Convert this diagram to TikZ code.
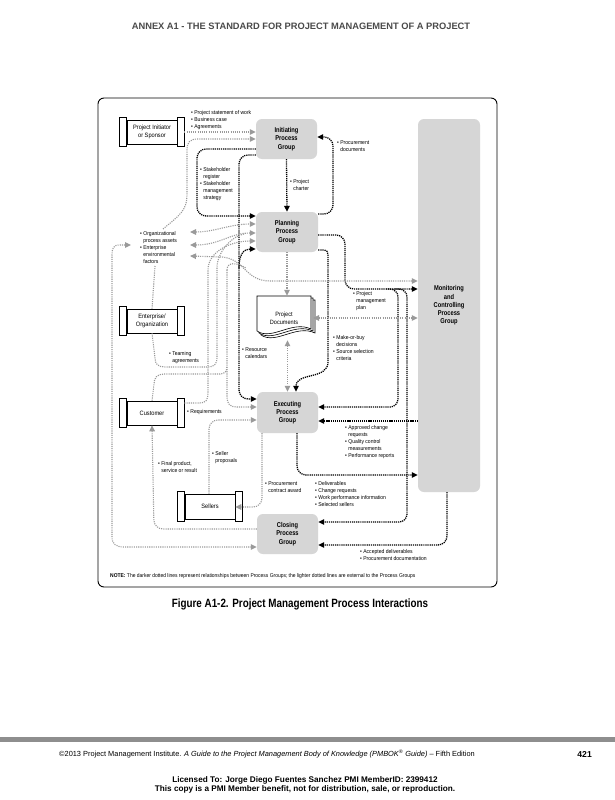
\documentclass[tikz,border=0pt]{standalone}
\usepackage{fontspec}
\setmainfont{Liberation Sans}
\newfontfamily\cond[FakeStretch=0.9]{Liberation Sans}
\newfontfamily\condb[FakeStretch=0.82]{Liberation Sans}
\usetikzlibrary{arrows.meta,calc}
\definecolor{pgfill}{HTML}{D6D6D6}
\definecolor{lgray}{HTML}{9A9A9A}
\definecolor{hdrgray}{HTML}{4A4A4A}
\definecolor{bargray}{HTML}{8E8E8E}
\newcommand\ind{\hphantom{\textbullet\ }}
\newcommand\entbox[4]{%
  \node[ent] (#1) at (#2,#3) {#4};
  \draw[line width=0.6pt, fill=white] ($(#1.north west)+(-7,-2)$) rectangle ($(#1.south west)+(0,2)$);
  \draw[line width=0.6pt, fill=white] ($(#1.north east)+(0,-2)$) rectangle ($(#1.south east)+(7,2)$);
}
\begin{document}
\begin{tikzpicture}[x=1pt,y=-1pt,
  pg/.style={fill=pgfill, rounded corners=6pt, align=center, inner sep=0pt, font=\condb\bfseries\fontsize{7}{8.3}\selectfont},
  ent/.style={draw, line width=0.6pt, fill=white, minimum width=50pt, minimum height=24pt, inner sep=0pt, align=center, font=\cond\fontsize{6.3}{7.8}\selectfont},
  lbl/.style={anchor=north west, inner sep=0pt, align=left, font=\cond\fontsize{5.6}{7.1}\selectfont},
  dk/.style={draw=black, line width=1.3pt, dash pattern=on 1.2pt off 0.9pt},
  gy/.style={draw=lgray, line width=1.1pt, dash pattern=on 1.1pt off 1.1pt},
  aend/.style={-{Triangle[length=6pt,width=5.5pt]}},
  aboth/.style={{Triangle[length=6pt,width=5.5pt]}-{Triangle[length=6pt,width=5.5pt]}},
]
\useasboundingbox (0,0) rectangle (615,800);
\fill[white] (0,0) rectangle (615,800);

% header
\node[font=\bfseries\fontsize{9.3}{10}\selectfont, text=hdrgray] (hdr) at (301,26) {ANNEX A1 - THE STANDARD FOR PROJECT MANAGEMENT OF A PROJECT};

% frame
\node[draw, line width=0.9pt, rounded corners=6pt, minimum width=399pt, minimum height=489pt, inner sep=0pt] (frame) at (297.5,342.5) {};

% process groups
\node[pg, minimum width=61pt, minimum height=40pt] (init) at (286.5,139) {Initiating\\Process\\Group};
\node[pg, minimum width=62pt, minimum height=40pt] (plan) at (287,232) {Planning\\Process\\Group};
\node[pg, minimum width=61pt, minimum height=41pt] (exec) at (287.5,412.5) {Executing\\Process\\Group};
\node[pg, minimum width=61pt, minimum height=40pt] (close) at (287.5,534) {Closing\\Process\\Group};
\node[pg, minimum width=62pt, minimum height=373pt] (mon) at (449,305.5) {Monitoring\\and\\Controlling\\Process\\Group};

% entities
\entbox{spon}{152}{132}{Project Initiator\\or Sponsor}
\entbox{ent}{152}{321}{Enterprise/\\Organization}
\entbox{cust}{152}{413}{Customer}
\node[ent, minimum height=25pt] (sell) at (210,506.5) {Sellers};
\draw[line width=0.6pt, fill=white] ($(sell.north west)+(-7,-2)$) rectangle ($(sell.south west)+(0,2)$);
\draw[line width=0.6pt, fill=white] ($(sell.north east)+(0,-2)$) rectangle ($(sell.south east)+(7,2)$);

% project documents
\foreach \d in {4,2} {
  \draw[line width=0.6pt, fill=white] (257+\d,296+\d) -- (311+\d,296+\d) -- (311+\d,329+\d)
     .. controls (292+\d,320+\d) and (272+\d,341+\d) .. (257+\d,331+\d) -- cycle;
}
\draw[line width=0.6pt, fill=white] (257,296) -- (311,296) -- (311,329)
     .. controls (292,320) and (272,341) .. (257,331) -- cycle;
\node[inner sep=0pt, minimum width=54pt, minimum height=44pt, align=center, font=\cond\fontsize{6.2}{7.8}\selectfont] (docs) at (284,318) {Project\\Documents};

% dark connectors
\draw[dk,aend] (init.south) -- (plan.north);
\draw[dk,aend,rounded corners=9pt] (init.west|-0,149) -- (197,149) -- (197,216) -- (plan.west|-0,216);
\draw[dk,aend,rounded corners=9pt] (init.west|-0,155) -- (239,155) -- (239,399) -- (exec.west|-0,399);
\draw[dk,aend] (239,268) .. controls (239,254) and (244,249) .. (plan.west|-0,249);
\draw[dk,aend,rounded corners=9pt] (plan.east|-0,214) -- (333,214) -- (333,137) -- (init.east|-0,137);
\draw[dk,aend,rounded corners=9pt] (plan.east|-0,235) -- (345,235) -- (345,289) -- (mon.west|-0,289);
\draw[dk,aend,rounded corners=8pt] (386,289) -- (398,289) -- (398,407) -- (exec.east|-0,407);
\draw[dk,aend,rounded corners=8pt] (395,289) -- (407,289) -- (407,522) -- (close.east|-0,522);
\draw[dk,aend] (plan.east|-0,250) -- (320,250) .. controls (328,250) .. (328,260) -- (328,362) .. controls (328,380) and (296,372) .. (exec.north-|296,0);
\draw[dk,aend] (mon.west|-0,421) -- (exec.east|-0,421);
\draw[dk,aend,rounded corners=9pt] (exec.south-|297,0) -- (297,475) -- (mon.west|-0,475);
\draw[dk,aend,rounded corners=9pt] (mon.south-|447,0) -- (447,545) -- (close.east|-0,545);

% gray connectors
\draw[gy,aend] (spon.east) ++(7,0) -- (init.west|-spon.east);
\draw[gy,aend] (163,229) .. controls (180,215) and (187,210) .. (187,195) -- (187,150) .. controls (187,142) and (190,139) .. (198,139) -- (init.west|-0,139);
\draw[gy,aboth] (190,232) .. controls (215,232) and (230,224) .. (plan.west|-0,224);
\draw[gy,aboth] (190,245) .. controls (220,245) and (230,233) .. (plan.west|-0,233);
\draw[gy,aboth] (190,256) -- (222,257) .. controls (245,259) and (245,281) .. (270,281) -- (mon.west|-0,281);
\draw[gy,aboth] (131,245) -- (120,245) .. controls (113,245) and (112,248) .. (112,256) -- (112,537) .. controls (112,544) and (116,547) .. (124,547) -- (close.west|-0,547);
\draw[gy] (ent.north) -- (155,266);
% requirements: customer -> planning
\draw[gy,aend] (cust.east|-0,403) ++(7,0) -- (199,403) .. controls (206,403) and (208,400) .. (208,393) -- (208,270) .. controls (208,252) and (230,241) .. (plan.west|-0,241);
% teaming agreements
\draw[gy] (ent.south) -- (155,358) .. controls (155,364) and (158,367) .. (165,367) -- (208,367) .. controls (214,367) and (217,364) .. (217,358) -- (217,268) .. controls (217,252) and (232,236) .. (244,234);
% customer top and executing feed
\draw[gy] (cust.north) -- (154,384) .. controls (154,378) and (157,374) .. (164,374) -- (220,374) .. controls (225,374) and (227,371) .. (227,366);
\draw[gy,aend] (227,270) .. controls (227,262) and (236,262) .. (246,268) (227,270) -- (227,397) .. controls (227,404) and (230,407) .. (237,407) -- (exec.west|-0,407);
\draw[gy,aend,rounded corners=9pt] (sell.north-|209,0) -- (209,420) -- (exec.west|-0,420);
\draw[gy,aend,rounded corners=9pt] (exec.south-|262,0) -- (262,507) -- (sell.east|-0,507);
\draw[gy,aend,rounded corners=9pt] (close.west|-0,529) -- (154,529) -- (cust.south);
\draw[gy,aend] (plan.south) -- (docs.north-|plan.south);
\draw[gy,aboth] (docs.south-|exec.north) -- (exec.north);
\draw[gy,aboth] (313,318) -- (mon.west|-0,318);

% labels
\node[lbl] (l1) at (191,110) {\textbullet\ Project statement of work\\\textbullet\ Business case\\\textbullet\ Agreements};
\node[lbl] (l2) at (337,140) {\textbullet\ Procurement\\\ind documents};
\node[lbl] (l3) at (200,167) {\textbullet\ Stakeholder\\\ind register\\\textbullet\ Stakeholder\\\ind management\\\ind strategy};
\node[lbl] (l4) at (290,179) {\textbullet\ Project\\\ind charter};
\node[lbl] (l5) at (140,231) {\textbullet\ Organizational\\\ind process assets\\\textbullet\ Enterprise\\\ind environmental\\\ind factors};
\node[lbl] (l6) at (353,291) {\textbullet\ Project\\\ind management\\\ind plan};
\node[lbl] (l7) at (333,335) {\textbullet\ Make-or-buy\\\ind decisions\\\textbullet\ Source selection\\\ind criteria};
\node[lbl] (l8) at (242,347) {\textbullet\ Resource\\\ind calendars};
\node[lbl] (l9) at (169,351) {\textbullet\ Teaming\\\ind agreements};
\node[lbl] (l10) at (187,409) {\textbullet\ Requirements};
\node[lbl] (l11) at (212,451) {\textbullet\ Seller\\\ind proposals};
\node[lbl] (l12) at (158,461) {\textbullet\ Final product,\\\ind service or result};
\node[lbl] (l13) at (265,481) {\textbullet\ Procurement\\\ind contract award};
\node[lbl] (l14) at (345,425) {\textbullet\ Approved change\\\ind requests\\\textbullet\ Quality control\\\ind measurements\\\textbullet\ Performance reports};
\node[lbl] (l15) at (315,481) {\textbullet\ Deliverables\\\textbullet\ Change requests\\\textbullet\ Work performance information\\\textbullet\ Selected sellers};
\node[lbl] (l16) at (360,549) {\textbullet\ Accepted deliverables\\\textbullet\ Procurement documentation};
\node[anchor=west, inner sep=0pt, font=\cond\fontsize{5.5}{6}\selectfont] (note) at (110,576) {\textbf{NOTE:} The darker dotted lines represent relationships between Process Groups; the lighter dotted lines are external to the Process Groups};

% caption
\node[font=\condb\bfseries\fontsize{12}{14}\selectfont] (cap) at (300,604) {Figure A1-2. Project Management Process Interactions};

% footer
\fill[bargray] (0,737) rectangle (615,742);
\node[anchor=west, inner sep=0pt, font=\fontsize{7.4}{8}\selectfont] (foot) at (59,754) {\textcopyright2013 Project Management Institute. \textit{A Guide to the Project Management Body of Knowledge (PMBOK\textsuperscript{\textregistered} Guide)} -- Fifth Edition};
\node[anchor=east, inner sep=0pt, font=\bfseries\fontsize{8.6}{9}\selectfont] (pg) at (592,754) {421};
\node[inner sep=0pt, align=center, font=\bfseries\fontsize{8.2}{7.6}\selectfont] (lic) at (305,785) {Licensed To: Jorge Diego Fuentes Sanchez PMI MemberID: 2399412\\This copy is a PMI Member benefit, not for distribution, sale, or reproduction.};
\end{tikzpicture}
\end{document}
